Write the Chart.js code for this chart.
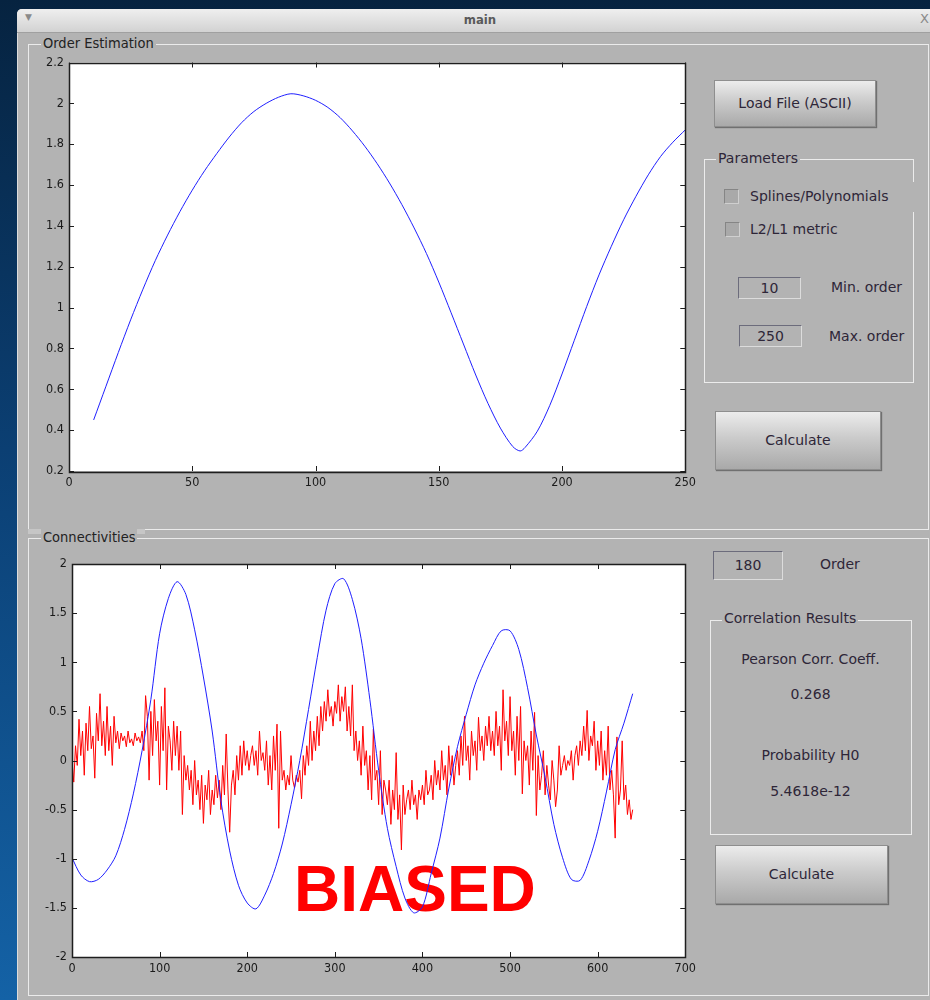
<!DOCTYPE html>
<html>
<head>
<meta charset="utf-8">
<title>main</title>
<script src="https://cdn.jsdelivr.net/npm/chart.js@4.4.1/dist/chart.umd.min.js"></script>
<style>
    body {
        margin: 0;
        width: 930px;
        height: 1000px;
        overflow: hidden;
        position: relative;
        font-family: 'DejaVu Sans', sans-serif;
        background: linear-gradient(to bottom, #062340 0%, #0b3f73 45%, #1462a6 100%);
    }
    .abs { position: absolute; }
    #win {
        left: 17px; top: 9px; width: 930px; height: 1000px;
        background: #b3b3b3;
        border-radius: 5px 5px 0 0;
        border-left: 1px solid #dcdcdc;
    }
    #titlebar {
        left: 17px; top: 9px; width: 930px; height: 23px;
        background: linear-gradient(#efefef, #d2d2d2);
        border-radius: 5px 5px 0 0;
        border-bottom: 1px solid #a0a0a0;
    }
    .panel { border: 1px solid #ebebeb; }
    .ptitle {
        background: #b3b3b3; color: #222;
        font-family: 'DejaVu Sans Condensed', 'DejaVu Sans', sans-serif;
        font-size: 14.5px; line-height: 16px; padding: 0 2px;
    }
    .group { border: 1px solid #ececec; }
    .gtitle {
        background: #b3b3b3; color: #2e2638;
        font-size: 14px; line-height: 16px; padding: 0 2px;
    }
    .btn {
        background: linear-gradient(#ececec, #cbcbcb 45%, #a9a9a9);
        border: 1px solid #8e8e8e;
        box-shadow: 1px 1px 1px #707070;
        color: #2e2638; font-size: 14px; text-align: center;
    }
    .edit {
        background: #b3b3b3;
        border-top: 1px solid #6c6c7c; border-left: 1px solid #6c6c7c;
        border-bottom: 1px solid #dcdcdc; border-right: 1px solid #dcdcdc;
        color: #2e2638; font-size: 14px; text-align: center;
    }
    .chk {
        width: 13px; height: 13px; background: #a9a9a9;
        border-top: 1px solid #858585; border-left: 1px solid #858585;
        border-bottom: 1px solid #cfcfcf; border-right: 1px solid #cfcfcf;
    }
    .lbl { color: #2e2638; font-size: 14px; height: 18px; line-height: 18px; white-space: nowrap; }
    .ctr { text-align: center; width: 201px; left: 710px; }
    canvas { position: absolute; }
    #connBg { background: #ffffff; }
    #biased {
        left: 294px; top: 857px;
        font-family: 'Liberation Sans', Arial, sans-serif;
        font-weight: bold; font-size: 64px; line-height: 64px;
        color: #ff0000;
    }
</style>
</head>
<body>
<div id="win" class="abs"></div>
<div id="titlebar" class="abs"></div>
<div class="abs" style="left:25px;top:12px;color:#8a8a8a;font-size:9px;">&#9660;</div>
<div class="abs" style="left:430px;top:12px;width:100px;text-align:center;color:#5a5a5a;font-family:'DejaVu Sans Condensed';font-weight:bold;font-size:13px;">main</div>
<div class="abs" style="left:920px;top:11px;color:#8a8a8a;font-size:13px;">X</div>

<!-- Order Estimation panel -->
<div class="abs panel" style="left:28px;top:44px;width:899px;height:484px;"></div>
<div class="abs ptitle" style="left:41px;top:35px;">Order Estimation</div>
<canvas id="orderChart" width="670" height="440" style="left:30px;top:50px;"></canvas>

<div class="abs btn" style="left:714px;top:80px;width:160px;height:45px;line-height:45px;">Load File (ASCII)</div>
<div class="abs group" style="left:704px;top:159px;width:208px;height:222px;"></div>
<div class="abs gtitle" style="left:716px;top:150px;">Parameters</div>
<div class="abs" style="left:712px;top:182px;width:204px;height:30px;background:#b3b3b3;"></div>
<div class="abs chk" style="left:724px;top:189px;"></div>
<div class="abs lbl" style="left:750px;top:187px;">Splines/Polynomials</div>
<div class="abs chk" style="left:725px;top:222px;"></div>
<div class="abs lbl" style="left:750px;top:220px;">L2/L1 metric</div>
<div class="abs edit" style="left:738px;top:277px;width:61px;height:20px;line-height:20px;">10</div>
<div class="abs lbl" style="left:831px;top:278px;">Min. order</div>
<div class="abs edit" style="left:739px;top:325px;width:61px;height:20px;line-height:20px;">250</div>
<div class="abs lbl" style="left:829px;top:327px;">Max. order</div>
<div class="abs btn" style="left:715px;top:411px;width:164px;height:57px;line-height:57px;">Calculate</div>

<!-- Connectivities panel -->
<div class="abs" style="left:28px;top:529px;width:117px;height:5px;background:#c6c6c6;"></div>
<div class="abs panel" style="left:28px;top:538px;width:899px;height:456px;"></div>
<div class="abs ptitle" style="left:41px;top:529px;">Connectivities</div>
<div id="connBg" class="abs"></div>
<div id="biased" class="abs">BIASED</div>
<canvas id="connChart" width="670" height="430" style="left:30px;top:550px;"></canvas>

<div class="abs edit" style="left:713px;top:551px;width:68px;height:27px;line-height:27px;">180</div>
<div class="abs lbl" style="left:820px;top:555px;">Order</div>
<div class="abs group" style="left:710px;top:620px;width:200px;height:213px;"></div>
<div class="abs gtitle" style="left:722px;top:610px;">Correlation Results</div>
<div class="abs lbl ctr" style="top:650px;">Pearson Corr. Coeff.</div>
<div class="abs lbl ctr" style="top:685px;">0.268</div>
<div class="abs lbl ctr" style="top:746px;">Probability H0</div>
<div class="abs lbl ctr" style="top:782px;">5.4618e-12</div>
<div class="abs btn" style="left:715px;top:845px;width:171px;height:57px;line-height:57px;">Calculate</div>

<script>
// Order estimation curve (order vs. criterion)
const orderX = [10, 15, 20, 25, 30, 35, 40, 45, 50, 55, 60, 65, 70, 75, 80, 85, 90, 95, 100, 105,
    110, 115, 120, 125, 130, 135, 140, 145, 150, 155, 160, 165, 170, 175, 180, 183, 185, 190, 195, 200,
    205, 210, 215, 220, 225, 230, 235, 240, 245, 250];
const orderY = [0.45, 0.615, 0.78, 0.94, 1.09, 1.23, 1.355, 1.47, 1.575, 1.67, 1.755, 1.835, 1.905, 1.96, 2.00, 2.03, 2.047, 2.037, 2.015, 1.98,
    1.93, 1.865, 1.79, 1.705, 1.61, 1.505, 1.39, 1.265, 1.125, 0.975, 0.822, 0.67, 0.53, 0.41, 0.32, 0.298, 0.315, 0.395, 0.52, 0.675,
    0.84, 1.005, 1.16, 1.30, 1.43, 1.545, 1.65, 1.74, 1.81, 1.87];
const orderXTicks = [0, 250, 50];
const orderYTicks = [0.2, 2.2, 0.2];

// Connectivities: smooth model (blue), sampled every 10
const blueStep = 10;
const blueY = [
    -0.99, -1.165, -1.233, -1.21, -1.115, -0.97, -0.70, -0.34, 0.10, 0.62,
    1.29, 1.65, 1.82, 1.69, 1.33, 0.85, 0.30, -0.41, -0.92, -1.27,
    -1.45, -1.51, -1.37, -1.15, -0.85, -0.45, 0.00, 0.52, 1.05, 1.53,
    1.80, 1.85, 1.64, 1.24, 0.62, -0.10, -0.69, -1.08, -1.40, -1.55,
    -1.49, -1.15, -0.79, -0.29, 0.14, 0.47, 0.77, 0.99, 1.17, 1.32,
    1.32, 1.13, 0.74, 0.26, -0.17, -0.65, -0.99, -1.21, -1.22, -1.02,
    -0.72, -0.32, 0.11, 0.38, 0.68
];

// Connectivities: noisy measurement (red), sampled every 2
const redStep = 2;
const redY = [
    0.00, -0.22, 0.15, -0.05, 0.42, 0.05, 0.30, -0.15, 0.38, 0.10, 0.55, 0.12, 0.25, -0.18, 0.48, 0.20, 0.68, 0.15, 0.40, 0.05,
    0.55, 0.10, 0.35, -0.05, 0.45, 0.18, 0.30, 0.12, 0.28, 0.20, 0.25, 0.14, 0.30, 0.18, 0.22, 0.15, 0.28, 0.20, 0.24, 0.18,
    0.30, 0.10, 0.66, 0.45, -0.20, 0.50, 0.05, 0.62, 0.20, 0.40, -0.25, 0.55, 0.10, 0.74, -0.30, 0.35, 0.20, -0.10, 0.40, 0.05,
    0.35, -0.10, 0.30, -0.55, 0.05, -0.20, -0.05, -0.30, -0.10, -0.45, 0.00, -0.35, -0.20, -0.50, -0.15, -0.64, -0.25, -0.40, -0.10, -0.55,
    -0.30, -0.45, -0.15, -0.38, -0.20, -0.50, -0.05, -0.35, 0.27, -0.30, -0.73, -0.25, -0.10, -0.35, 0.05, -0.20, 0.15, -0.15, 0.20, -0.05,
    0.10, -0.10, 0.05, 0.15, -0.05, 0.10, -0.15, 0.30, 0.00, 0.08, -0.10, 0.20, -0.25, 0.05, -0.30, 0.25, -0.10, 0.37, -0.69, 0.30,
    -0.20, -0.10, -0.30, -0.15, -0.25, 0.05, -0.20, -0.28, -0.15, -0.22, -0.10, -0.39, 0.05, -0.15, 0.15, -0.05, 0.40, 0.00, 0.30, 0.10,
    0.45, 0.15, 0.55, 0.30, 0.60, 0.40, 0.72, 0.45, 0.55, 0.35, 0.60, 0.48, 0.77, 0.40, 0.65, 0.50, 0.75, 0.30, 0.55, 0.25,
    0.77, 0.10, 0.30, 0.00, 0.20, -0.15, 0.35, -0.05, 0.10, -0.30, 0.05, -0.40, 0.32, -0.20, -0.10, -0.45, 0.10, -0.55, -0.20, -0.30,
    -0.45, -0.20, -0.65, -0.30, -0.50, 0.08, -0.60, -0.35, -0.91, -0.25, -0.55, -0.40, -0.30, -0.50, -0.20, -0.45, -0.35, -0.60, -0.30, -0.40,
    -0.25, -0.45, -0.10, -0.35, -0.30, -0.15, -0.40, 0.00, -0.25, -0.10, -0.30, 0.10, -0.20, -0.05, -0.35, 0.15, -0.15, 0.05, -0.25, -0.05,
    0.10, -0.15, 0.25, -0.05, 0.45, 0.00, 0.15, -0.20, 0.30, 0.05, 0.20, -0.10, 0.44, 0.10, 0.25, 0.00, 0.35, 0.15, 0.45, 0.10,
    0.30, 0.05, 0.50, 0.15, 0.35, -0.10, 0.72, 0.20, 0.40, 0.05, 0.65, 0.10, 0.30, -0.15, 0.45, 0.00, 0.55, -0.34, 0.20, 0.00,
    0.15, -0.25, 0.30, -0.10, 0.49, -0.56, 0.05, -0.30, -0.15, 0.10, -0.35, -0.05, -0.25, -0.40, 0.00, -0.20, -0.47, -0.30, 0.15, -0.15,
    -0.05, 0.05, -0.10, 0.00, -0.05, 0.10, -0.20, 0.05, 0.15, -0.05, 0.20, 0.05, 0.35, 0.10, 0.51, 0.00, 0.25, 0.15, 0.40, -0.10,
    0.20, -0.05, 0.30, -0.20, 0.10, -0.15, 0.35, -0.30, -0.10, -0.35, -0.79, 0.24, -0.45, -0.30, 0.20, -0.40, -0.25, -0.55, -0.40, -0.60,
    -0.50
];
const connXTicks = [0, 700, 100];
const connYTicks = [-2, 2, 0.5];

// white plot area + matlab style box with inward ticks
const matlabAxes = {
    id: 'matlabAxes',
    beforeDraw(chart, args, opts) {
        if (!opts.fill) return;
        const a = chart.chartArea, ctx = chart.ctx;
        ctx.save();
        ctx.fillStyle = '#ffffff';
        ctx.fillRect(a.left, a.top, a.right - a.left, a.bottom - a.top);
        ctx.restore();
    },
    afterDraw(chart) {
        const a = chart.chartArea, ctx = chart.ctx;
        const xs = chart.scales.x, ys = chart.scales.y;
        const len = 5;
        ctx.save();
        ctx.strokeStyle = '#1e1e1e';
        ctx.lineWidth = 1;
        ctx.beginPath();
        xs.ticks.forEach(t => {
            const px = Math.round(xs.getPixelForValue(t.value)) + 0.5;
            ctx.moveTo(px, a.bottom); ctx.lineTo(px, a.bottom - len);
            ctx.moveTo(px, a.top); ctx.lineTo(px, a.top + len);
        });
        ys.ticks.forEach(t => {
            const py = Math.round(ys.getPixelForValue(t.value)) + 0.5;
            ctx.moveTo(a.left, py); ctx.lineTo(a.left + len, py);
            ctx.moveTo(a.right, py); ctx.lineTo(a.right - len, py);
        });
        ctx.stroke();
        ctx.lineWidth = 1.5;
        ctx.strokeRect(Math.round(a.left) + 0.5, Math.round(a.top) + 0.5,
            Math.round(a.right - a.left), Math.round(a.bottom - a.top));
        ctx.restore();
    }
};

const tickFont = { family: "'DejaVu Sans Condensed', 'DejaVu Sans', sans-serif", size: 12.5 };
const fmt = v => String(Math.round(v * 10) / 10);

function makeAxes(xt, yt, yWidth, xHeight) {
    return {
        x: {
            type: 'linear', min: xt[0], max: xt[1],
            grid: { display: false, drawTicks: false },
            border: { display: false },
            ticks: { stepSize: xt[2], color: '#1a1a1a', font: tickFont, padding: 4, maxRotation: 0, callback: fmt },
            afterFit: s => { s.height = xHeight; }
        },
        y: {
            type: 'linear', min: yt[0], max: yt[1],
            grid: { display: false, drawTicks: false },
            border: { display: false },
            ticks: { stepSize: yt[2], color: '#1a1a1a', font: tickFont, padding: 5, callback: fmt },
            afterFit: s => { s.width = yWidth; }
        }
    };
}

function baseOpts(fill, padding, axes) {
    return {
        responsive: false,
        animation: false,
        layout: { padding: padding },
        plugins: { legend: { display: false }, tooltip: { enabled: false }, matlabAxes: { fill: fill } },
        elements: { point: { radius: 0 } },
        scales: axes
    };
}

new Chart(document.getElementById('orderChart'), {
    type: 'line',
    data: {
        datasets: [{
            data: orderX.map((x, i) => ({ x: x, y: orderY[i] })),
            borderColor: '#1f1fff',
            borderWidth: 1,
            tension: 0.3,
            fill: false
        }]
    },
    options: baseOpts(true, { top: 10, right: 13, left: 0, bottom: 0 }, makeAxes(orderXTicks, orderYTicks, 39, 19)),
    plugins: [matlabAxes]
});

const connCanvas = document.getElementById('connChart');
const connChart = new Chart(connCanvas, {
    type: 'line',
    data: {
        datasets: [
            {
                data: blueY.map((y, i) => ({ x: i * blueStep, y: y })),
                borderColor: '#1f1fff',
                borderWidth: 1,
                tension: 0.3,
                fill: false
            },
            {
                data: redY.map((y, i) => ({ x: i * redStep, y: y })),
                borderColor: '#ff0000',
                borderWidth: 1,
                tension: 0,
                fill: false
            }
        ]
    },
    options: baseOpts(false, { top: 14, right: 12, left: 0, bottom: 0 }, makeAxes(connXTicks, connYTicks, 42, 23)),
    plugins: [matlabAxes]
});

// white plot background sits under the BIASED stamp, the lines go over it
const ca = connChart.chartArea;
const bg = document.getElementById('connBg');
bg.style.left = (connCanvas.offsetLeft + ca.left) + 'px';
bg.style.top = (connCanvas.offsetTop + ca.top) + 'px';
bg.style.width = (ca.right - ca.left) + 'px';
bg.style.height = (ca.bottom - ca.top) + 'px';
</script>
</body>
</html>
